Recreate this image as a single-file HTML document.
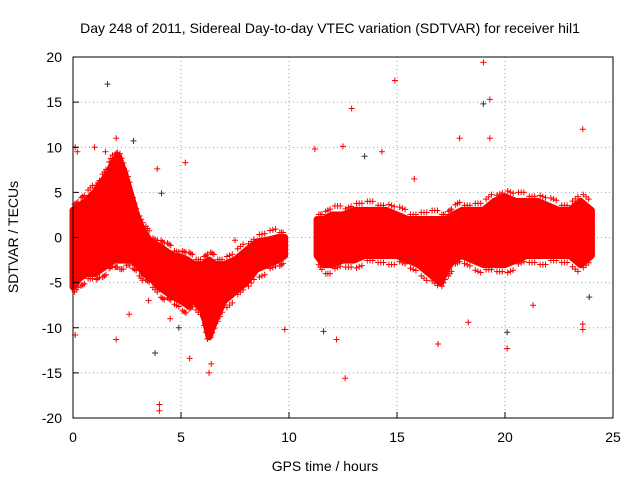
<!DOCTYPE html>
<html><head><meta charset="utf-8"><style>
body{margin:0;background:#fff}
svg{display:block;font-family:"Liberation Sans",sans-serif}
</style></head><body>
<svg id="chart" width="640" height="480" viewBox="0 0 640 480">
<rect width="640" height="480" fill="#fff"/>
<g id="grid"></g>
<g id="band"></g>
<g id="pts"></g>
<rect x="73" y="57" width="540" height="361" fill="none" stroke="#000" stroke-width="1"/>
<g id="ticks"></g>
<text x="330" y="33" font-size="14" text-anchor="middle">Day 248 of 2011, Sidereal Day-to-day VTEC variation (SDTVAR) for receiver hil1</text>
<text x="325" y="471" font-size="14" text-anchor="middle">GPS time / hours</text>
<text transform="translate(18,237) rotate(-90)" font-size="14" text-anchor="middle">SDTVAR / TECUs</text>
</svg>
<script>
const xTicks=[0,5,10,15,20,25];
const yTicks=[-20,-15,-10,-5,0,5,10,15,20];
const seg1Hours=[0,0.3,0.6,1,1.3,1.6,1.9,2.1,2.4,2.7,3,3.3,3.6,4,4.3,4.6,5,5.3,5.6,6,6.3,6.6,7,7.5,8,8.5,9,9.5,9.8];
const seg1Upper=[3,3.5,4,5,6,7,8.5,9,7,4.5,2,0.5,-0.5,-1,-1.5,-2,-2.2,-2.5,-3,-3,-2.5,-3,-3,-2.5,-1.5,-0.5,-0.3,0,0];
const seg1Lower=[-5.5,-4.5,-4,-4,-3.5,-3,-2.5,-2.5,-2.5,-2.5,-3,-4,-4.5,-5.5,-6,-6.5,-7,-7.5,-7,-8,-11,-9,-7,-6,-5,-3.5,-3,-2.5,-2];
const seg2Hours=[11.3,11.6,12,12.5,13,13.5,14,14.5,15,15.5,16,16.5,17,17.3,17.6,18,18.5,19,19.5,20,20.5,21,21.5,22,22.5,23,23.5,24];
const seg2Upper=[2,2,2.5,2.5,3,3,3,3,2.5,2,2,2,2,2,2.5,3,3,3,4,4.5,4,4,4,3.5,3,3,4,3];
const seg2Lower=[-2,-3,-3,-2.5,-2.5,-2,-2,-2,-2,-2.5,-3,-4,-5,-3.5,-2.5,-2,-2.5,-3,-3,-3,-2.5,-2,-2,-2,-2,-2,-3,-2];
const outX=[1.6,0.1,0.2,1,2,2.8,0.1,2,4,4,3.8,5.4,6.3,6.4,5.2,4.1,3.9,7.5,9.8,11.2,11.6,12.2,12.6,12.9,12.5,13.5,14.3,14.9,19,19.3,19,23.6,23.6,23.6,20.1,20.1,21.3,16.9,18.3,19.3,23.9,17.9,15.8,1.5,2.6,4.9,4.5,3.5];
const outY=[17,10,9.5,10,11,10.7,-10.8,-11.3,-18.5,-19.2,-12.8,-13.4,-15,-14,8.3,4.9,7.6,-0.3,-10.2,9.8,-10.4,-11.3,-15.6,14.3,10.1,9,9.5,17.4,19.4,15.3,14.8,12,-9.6,-10.2,-12.3,-10.5,-7.5,-11.8,-9.4,11,-6.6,11,6.5,9.5,-8.5,-10,-9,-7];
const X=h=>73+h*21.6, Y=v=>237.5-v*9.025;
const NS="http://www.w3.org/2000/svg";
const mk=(t,a,p)=>{const e=document.createElementNS(NS,t);for(const k in a)e.setAttribute(k,a[k]);p.appendChild(e);return e;};
const grid=document.getElementById('grid'),ticks=document.getElementById('ticks');
xTicks.forEach(t=>{
 if(t>0&&t<25){const l=mk('line',{x1:X(t),x2:X(t),y1:57,y2:418,stroke:'#a0a0a0','stroke-dasharray':'1,3'},grid);
 
 }
 const tl=mk('line',{x1:X(t),x2:X(t),y1:418,y2:412,stroke:'#000'},ticks);
 
 
 const tx=mk('text',{x:X(t),y:442,'font-size':14,'text-anchor':'middle'},ticks);tx.textContent=t;
 
 
});
yTicks.forEach(t=>{
 if(t>-20&&t<20){const l=mk('line',{x1:73,x2:613,y1:Y(t),y2:Y(t),stroke:'#a0a0a0','stroke-dasharray':'1,3'},grid);
 
 }
 const tl=mk('line',{x1:73,x2:79,y1:Y(t),y2:Y(t),stroke:'#000'},ticks);
 
 
 const tx=mk('text',{x:62,y:Y(t)+5,'font-size':14,'text-anchor':'end'},ticks);tx.textContent=t;
 
 
});
const band=document.getElementById('band');
const pts=document.getElementById('pts');
function cross(x,y,c){
 const g=mk('path',{d:`M${x-3},${y}h6M${x},${y-3}v6`,stroke:c,'stroke-width':1},pts);
 
 
}
function drawSeg(hs,up,lo,name){
 let d='M'+hs.map((h,i)=>X(h)+','+Y(up[i])).join('L');
 for(let i=hs.length-1;i>=0;i--)d+='L'+X(hs[i])+','+Y(lo[i]);
 const p=mk('path',{d:d+'Z',fill:'#f00',stroke:'#f00','stroke-width':7,'stroke-linejoin':'round'},band);
 
 
 hs.forEach((h,i)=>{
  [0.25,0.5,0.75].forEach(f=>{
   if(i+1<hs.length){const hx=h+(hs[i+1]-h)*f;
    cross(X(hx),Y(up[i]+(up[i+1]-up[i])*f)-5-(i%3)*2,'#f00');
    cross(X(hx),Y(lo[i]+(lo[i+1]-lo[i])*f)+5+((i+1)%3)*2,'#f00');}
  });
 });
}
drawSeg(seg1Hours,seg1Upper,seg1Lower,'band-segment-1');
drawSeg(seg2Hours,seg2Upper,seg2Lower,'band-segment-2');
outX.forEach((h,i)=>cross(X(h),Y(outY[i]),i%5===0?'#333':'#f00'));
</script>
</body></html>
